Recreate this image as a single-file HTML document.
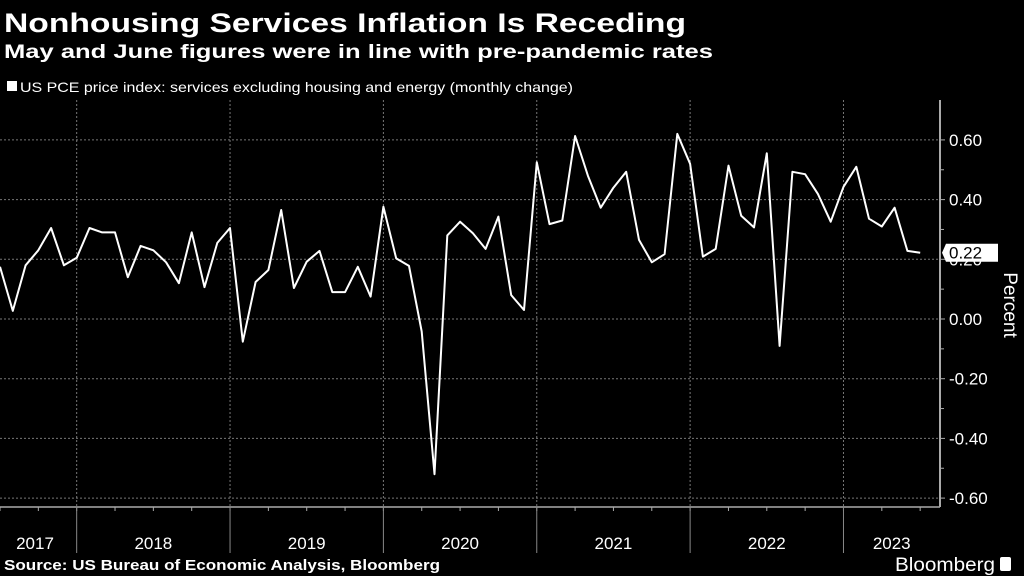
<!DOCTYPE html>
<html><head><meta charset="utf-8"><style>
html,body{margin:0;padding:0;background:#000;width:1024px;height:576px;overflow:hidden}
svg{display:block;font-family:"Liberation Sans",sans-serif}
</style></head><body>
<svg id="chart" width="1024" height="576" viewBox="0 0 1024 576">
<text x="4" y="32" fill="#fff" font-size="27" font-weight="bold" textLength="682" lengthAdjust="spacingAndGlyphs">Nonhousing Services Inflation Is Receding</text>
<text x="4" y="58" fill="#fff" font-size="19" font-weight="bold" textLength="709" lengthAdjust="spacingAndGlyphs">May and June figures were in line with pre-pandemic rates</text>
<rect x="7" y="81" width="10" height="10" fill="#fff"/>
<text x="20" y="92" fill="#fff" font-size="14" textLength="553" lengthAdjust="spacingAndGlyphs">US PCE price index: services excluding housing and energy (monthly change)</text>
<g id="grid"></g>
<g id="axes"></g>
<path id="line" fill="none" stroke="#fff" stroke-width="2" stroke-linejoin="round"/>
<g id="lastlabel"></g>
<text transform="translate(1004,305) rotate(90)" fill="#fff" font-size="19" text-anchor="middle">Percent</text>
<text x="4" y="570" fill="#fff" font-size="15" font-weight="bold" textLength="436" lengthAdjust="spacingAndGlyphs">Source: US Bureau of Economic Analysis, Bloomberg</text>
<text x="895" y="571" fill="#fff" font-size="19" textLength="100" lengthAdjust="spacingAndGlyphs">Bloomberg</text>
<rect x="1000" y="557" width="11" height="14" rx="2" fill="#fff"/>
</svg>
<script>
const values = [0.175,0.027,0.18,0.23,0.305,0.18,0.205,0.305,0.29,0.29,0.14,0.245,0.23,0.19,0.12,0.29,0.107,0.255,0.305,-0.076,0.124,0.164,0.365,0.104,0.192,0.228,0.09,0.09,0.175,0.075,0.376,0.203,0.178,-0.042,-0.52,0.28,0.326,0.287,0.235,0.343,0.08,0.03,0.525,0.318,0.33,0.613,0.48,0.373,0.44,0.493,0.265,0.19,0.217,0.62,0.52,0.209,0.235,0.514,0.346,0.307,0.555,-0.09,0.493,0.485,0.419,0.326,0.443,0.51,0.336,0.31,0.373,0.228,0.222];
const yTicks = [0.6,0.4,0.2,0.0,-0.2,-0.4,-0.6];
const yTickLabels = ["0.60","0.40","0.20","0.00","-0.20","-0.40","-0.60"];
const years = ["2017","2018","2019","2020","2021","2022","2023"];
const yearStartIndex = [-6,6,18,30,42,54,66];
const lastLabel = "0.22";

const NS="http://www.w3.org/2000/svg";
const step=12.78, x0=0;
const xs=i=>x0+i*step;
const ys=v=>319-v*298.5;
const plotR=940, axisY=507;
function mk(tag,attrs,parent){const e=document.createElementNS(NS,tag);for(const k in attrs)e.setAttribute(k,attrs[k]);parent.appendChild(e);return e;}
const grid=document.getElementById('grid'), axes=document.getElementById('axes');
yTicks.forEach((t,k)=>{
  const g=mk('line',{x1:0,x2:plotR,y1:ys(t),y2:ys(t),stroke:'#777','stroke-width':1,'stroke-dasharray':'2,2'},grid);
  
  
  const tk=mk('line',{x1:plotR,x2:plotR+5,y1:ys(t),y2:ys(t),stroke:'#aaa'},axes);
  
  
  const tx=mk('text',{x:plotR+9,y:ys(t)+6,fill:'#fff','font-size':17},axes);
  tx.textContent=yTickLabels[k];
  
  
  if(k<yTicks.length-1){
    const m=mk('line',{x1:plotR,x2:plotR+4,y1:ys(t-0.1),y2:ys(t-0.1),stroke:'#aaa'},axes);
    
    
  }
});
const ya=mk('line',{x1:plotR,x2:plotR,y1:100,y2:axisY,stroke:'#aaa','stroke-width':2},axes);


const xa=mk('line',{x1:0,x2:plotR,y1:axisY,y2:axisY,stroke:'#aaa','stroke-width':1.5},axes);


for(let i=-6;i<=78;i+=3){const x=xs(i);if(x<0||x>plotR)continue;
  const t=mk('line',{x1:x,x2:x,y1:axisY,y2:axisY+4,stroke:'#aaa'},axes);
  
  }
years.forEach((y,k)=>{
  const s=xs(yearStartIndex[k]), e=k<years.length-1?xs(yearStartIndex[k+1]):plotR;
  if(k>0){
    const vg=mk('line',{x1:s,x2:s,y1:100,y2:axisY,stroke:'#777','stroke-dasharray':'2,2'},grid);
    
    
    const sep=mk('line',{x1:s,x2:s,y1:axisY,y2:553,stroke:'#888'},axes);
    
    
  }
  const cx=(Math.max(s,0)+e)/2;
  const tx=mk('text',{x:k==0?35:cx,y:549,fill:'#fff','font-size':17,'text-anchor':'middle'},axes);
  tx.textContent=y;
  
  
});
document.getElementById('line').setAttribute('d',values.map((v,i)=>(i?'L':'M')+xs(i).toFixed(1)+','+ys(v).toFixed(1)).join(''));
const ll=document.getElementById('lastlabel');
const ly=ys(values[values.length-1]);
const p=mk('path',{d:`M942,${ly}L946,${ly-9}H998V${ly+9}H946Z`,fill:'#fff'},ll);


const lt=mk('text',{x:949,y:ly+6,fill:'#000','font-size':17},ll);
lt.textContent=lastLabel;


</script>
</body></html>
